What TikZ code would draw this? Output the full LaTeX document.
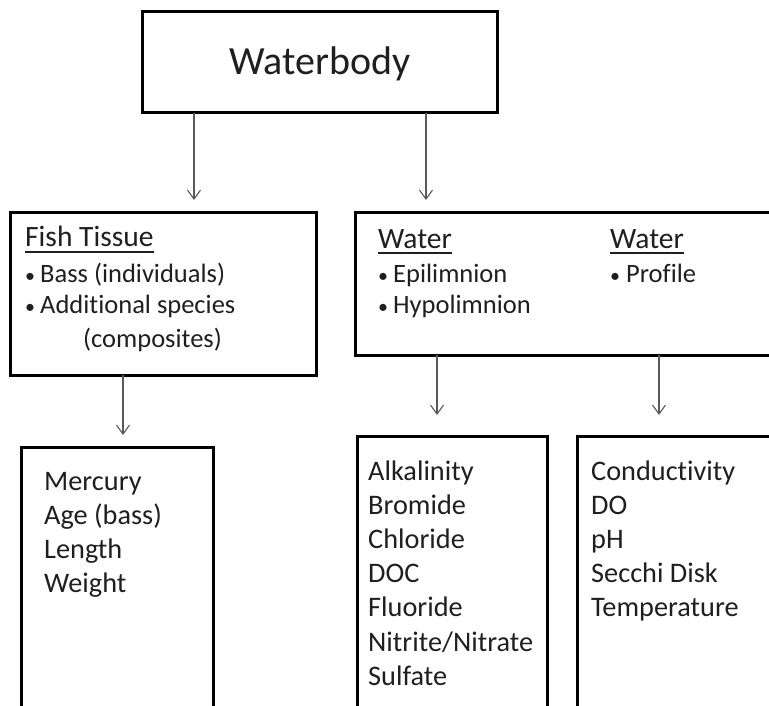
\documentclass[tikz,border=0pt]{standalone}
\usepackage{fontspec}
\setmainfont[Ligatures={NoCommon,NoContextual}]{Carlito}
\usetikzlibrary{arrows.meta,calc}
\begin{document}
\begin{tikzpicture}[x=1pt,y=-1pt,
  box/.style={draw, line width=3pt, rectangle, outer sep=0pt, inner sep=0pt, anchor=north west},
  txt/.style={anchor=base west, inner sep=0pt, font=\fontsize{28.3}{34}\selectfont, text=black!88},
  ttl/.style={anchor=base west, inner sep=0pt, font=\fontsize{29.5}{34}\selectfont, text=black!88},
  itm/.style={anchor=base west, inner sep=0pt, font=\fontsize{26.5}{32}\selectfont, text=black!88},
  bul/.style={anchor=base west, inner sep=0pt, font=\fontsize{20}{24}\selectfont, text=black!88},
  uline/.style={draw=black!88, line width=2pt},
  conn/.style={draw=black!65, line width=1.1pt, -{Straight Barb[length=9pt,width=13pt,line width=1.1pt]}}]
\useasboundingbox (0,0) rectangle (769,706);
\clip (0,0) rectangle (769,706);

% boxes
\node[box, minimum width=355pt, minimum height=101pt] (wb) at (142,12) {};
\node[box, minimum width=306pt, minimum height=162pt] (fish) at (10,213) {};
\node[box, minimum width=440pt, minimum height=142pt] (water) at (355,213) {};
\node[box, minimum width=192pt, minimum height=300pt] (merc) at (21,447) {};
\node[box, minimum width=190pt, minimum height=300pt] (alk) at (357,436) {};
\node[box, minimum width=250pt, minimum height=300pt] (cond) at (577,436) {};

% title
\node[anchor=base, inner sep=0pt, font=\fontsize{40}{46}\selectfont, text=black!88] (wbt) at (320,75) {Waterbody};

% fish tissue
\node[ttl] (ft) at (25,247) {Fish Tissue};
\draw[uline] ($(ft.base west)+(0,5)$) -- ($(ft.base east)+(0,5)$);
\node[bul] (fb1) at (25,282) {•};
\node[itm] (fi1) at (40,282) {Bass (individuals)};
\node[bul] (fb2) at (25,313) {•};
\node[itm] (fi2) at (40,313) {Additional species};
\node[itm] (fi3) at (83,347) {(composites)};

% water
\node[ttl] (wt1) at (378,248) {Water};
\draw[uline] ($(wt1.base west)+(0,4.5)$) -- ($(wt1.base east)+(0,4.5)$);
\node[bul] (wb1) at (378,282) {•};
\node[itm] (wi1) at (393,282) {Epilimnion};
\node[bul] (wb2) at (378,313) {•};
\node[itm] (wi2) at (393,313) {Hypolimnion};
\node[ttl] (wt2) at (610,248) {Water};
\draw[uline] ($(wt2.base west)+(0,4.5)$) -- ($(wt2.base east)+(0,4.5)$);
\node[bul] (wb3) at (610,282) {•};
\node[itm] (wi3) at (626,282) {Profile};

% lists
\foreach \t [count=\i from 0] in {Mercury, Age (bass), Length, Weight}
  \node[txt] (m\i) at (44,490+34*\i) {\t};
\foreach \t [count=\i from 0] in {Alkalinity, Bromide, Chloride, DOC, Fluoride, Nitrite/Nitrate, Sulfate}
  \node[txt] (a\i) at (368,480+34.2*\i) {\t};
\foreach \t [count=\i from 0] in {Conductivity, DO, pH, Secchi Disk, Temperature}
  \node[txt] (c\i) at (591,480+34*\i) {\t};

% connectors
\draw[conn, shorten >=13pt] ([xshift=52pt]wb.south west) -- ([xshift=52pt]wb.south west |- fish.north);
\draw[conn, shorten >=13pt] ([xshift=284pt]wb.south west) -- ([xshift=284pt]wb.south west |- water.north);
\draw[conn, shorten >=12pt] ([xshift=113pt]fish.south west) -- ([xshift=113pt]fish.south west |- merc.north);
\draw[conn, shorten >=21pt] ([xshift=82pt]water.south west) -- ([xshift=82pt]water.south west |- alk.north);
\draw[conn, shorten >=21pt] ([xshift=304pt]water.south west) -- ([xshift=304pt]water.south west |- cond.north);
\end{tikzpicture}
\end{document}
